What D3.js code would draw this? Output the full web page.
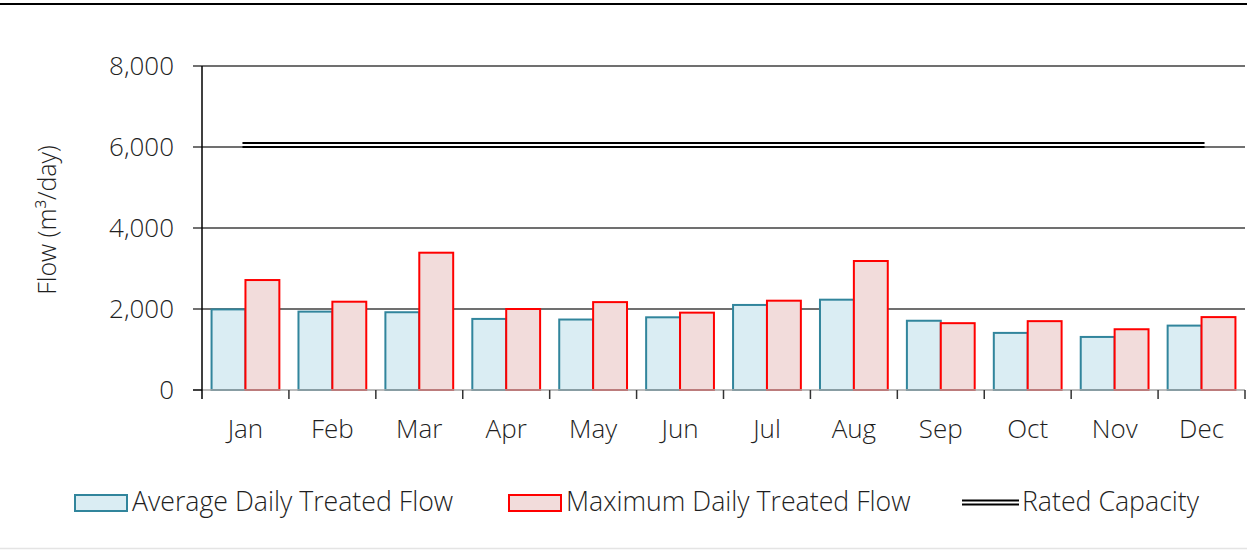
<!DOCTYPE html>
<html>
<head>
<meta charset="utf-8">
<script src="https://cdn.jsdelivr.net/npm/d3@7"></script>
<style>
  body { margin: 0; background: #fff; }
  text { font-family: "Open Sans", sans-serif; font-weight: 300; fill: #1f1f1f; }
</style>
</head>
<body>
<script>
var months = ['Jan', 'Feb', 'Mar', 'Apr', 'May', 'Jun', 'Jul', 'Aug', 'Sep', 'Oct', 'Nov', 'Dec'];
var avgFlow = [1990, 1935, 1920, 1755, 1740, 1795, 2100, 2230, 1710, 1410, 1310, 1590];
var maxFlow = [2715, 2180, 3390, 2000, 2170, 1910, 2205, 3185, 1650, 1700, 1500, 1800];
var ratedCapacity = 6050;
var yTicks = [0, 2000, 4000, 6000, 8000];
var seriesNames = ['Average Daily Treated Flow', 'Maximum Daily Treated Flow', 'Rated Capacity'];

var W = 1247, H = 550;
var svg = d3.select('body').append('svg').attr('width', W).attr('height', H);

var plotL = 202, plotR = 1245, plotT = 66, plotB = 390;

var x = d3.scaleBand().domain(months).range([plotL, plotR]).paddingInner(0.22).paddingOuter(0.11);
var xs = d3.scaleBand().domain(['avg', 'max']).range([0, x.bandwidth()]);
var y = d3.scaleLinear().domain([0, 8000]).range([plotB, plotT]);

// frame lines
svg.append('line').attr('x1', 0).attr('x2', W).attr('y1', 4).attr('y2', 4)
  .attr('stroke', '#000').attr('stroke-width', 2);
svg.append('line').attr('x1', 0).attr('x2', W).attr('y1', 548.5).attr('y2', 548.5)
  .attr('stroke', '#e4e4e4').attr('stroke-width', 1.5);

// gridlines
svg.append('g').selectAll('line').data(yTicks.filter(function(d){ return d > 0; }))
  .enter().append('line')
  .attr('x1', plotL - 9).attr('x2', plotR)
  .attr('y1', function(d){ return y(d); }).attr('y2', function(d){ return y(d); })
  .attr('stroke', '#404040').attr('stroke-width', 1.5);

// y labels
svg.append('g').selectAll('text').data(yTicks).enter().append('text')
  .attr('x', 174).attr('y', function(d){ return y(d) + 9; })
  .attr('text-anchor', 'end').attr('font-size', 26)
  .text(function(d){ return d3.format(',')(d); });

svg.append('text')
  .attr('transform', 'translate(56,220) rotate(-90)')
  .attr('text-anchor', 'middle').attr('font-size', 25)
  .text('Flow (m³/day)');

// bars
var groups = svg.append('g').selectAll('g').data(months).enter().append('g')
  .attr('transform', function(d){ return 'translate(' + x(d) + ',0)'; });

groups.append('rect')
  .attr('x', xs('avg')).attr('width', xs.bandwidth())
  .attr('y', function(d, i){ return y(avgFlow[i]); })
  .attr('height', function(d, i){ return plotB - y(avgFlow[i]); })
  .attr('fill', '#daedf3').attr('stroke', '#31859c').attr('stroke-width', 2);

groups.append('rect')
  .attr('x', xs('max')).attr('width', xs.bandwidth())
  .attr('y', function(d, i){ return y(maxFlow[i]); })
  .attr('height', function(d, i){ return plotB - y(maxFlow[i]); })
  .attr('fill', '#f2dcdb').attr('stroke', '#ff0000').attr('stroke-width', 2);

// x axis
svg.append('line').attr('x1', plotL).attr('x2', plotR).attr('y1', plotB).attr('y2', plotB)
  .attr('stroke', '#a6a6a6').attr('stroke-width', 1.5);
svg.append('line').attr('x1', plotL - 9).attr('x2', plotL).attr('y1', plotB).attr('y2', plotB)
  .attr('stroke', '#000').attr('stroke-width', 1.5);
svg.append('line').attr('x1', plotL).attr('x2', plotL).attr('y1', plotT).attr('y2', plotB + 9)
  .attr('stroke', '#000').attr('stroke-width', 1.5);

var tickX = months.map(function(m){ return x(m) - x.step() * x.paddingInner() / 2; });
tickX.push(plotR);
svg.append('g').selectAll('line').data(tickX.slice(1)).enter().append('line')
  .attr('x1', function(d){ return d; }).attr('x2', function(d){ return d; })
  .attr('y1', plotB).attr('y2', plotB + 9)
  .attr('stroke', '#333').attr('stroke-width', 1.5);

svg.append('g').selectAll('text').data(months).enter().append('text')
  .attr('x', function(d){ return x(d) + x.bandwidth() / 2; })
  .attr('y', 438).attr('text-anchor', 'middle').attr('font-size', 26)
  .text(function(d){ return d; });

// rated capacity double line
var rx1 = x('Jan') + x.bandwidth() / 2 - 3, rx2 = x('Dec') + x.bandwidth() / 2 + 3;
[-2, 2].forEach(function(off){
  svg.append('line').attr('x1', rx1).attr('x2', rx2)
    .attr('y1', y(ratedCapacity) + off).attr('y2', y(ratedCapacity) + off)
    .attr('stroke', '#000').attr('stroke-width', 2);
});

// legend
var lg = svg.append('g');
lg.append('rect').attr('x', 75).attr('y', 495).attr('width', 52).attr('height', 16)
  .attr('fill', '#daedf3').attr('stroke', '#31859c').attr('stroke-width', 2);
lg.append('text').attr('x', 132).attr('y', 511).attr('font-size', 26.7).text(seriesNames[0]);
lg.append('rect').attr('x', 509).attr('y', 495).attr('width', 52).attr('height', 16)
  .attr('fill', '#f2dcdb').attr('stroke', '#ff0000').attr('stroke-width', 2);
lg.append('text').attr('x', 566).attr('y', 511).attr('font-size', 26.7).text(seriesNames[1]);
[500.5, 504.5].forEach(function(yy){
  lg.append('line').attr('x1', 962).attr('x2', 1019).attr('y1', yy).attr('y2', yy)
    .attr('stroke', '#000').attr('stroke-width', 2);
});
lg.append('text').attr('x', 1022).attr('y', 511).attr('font-size', 26.7).text(seriesNames[2]);
</script>
</body>
</html>
